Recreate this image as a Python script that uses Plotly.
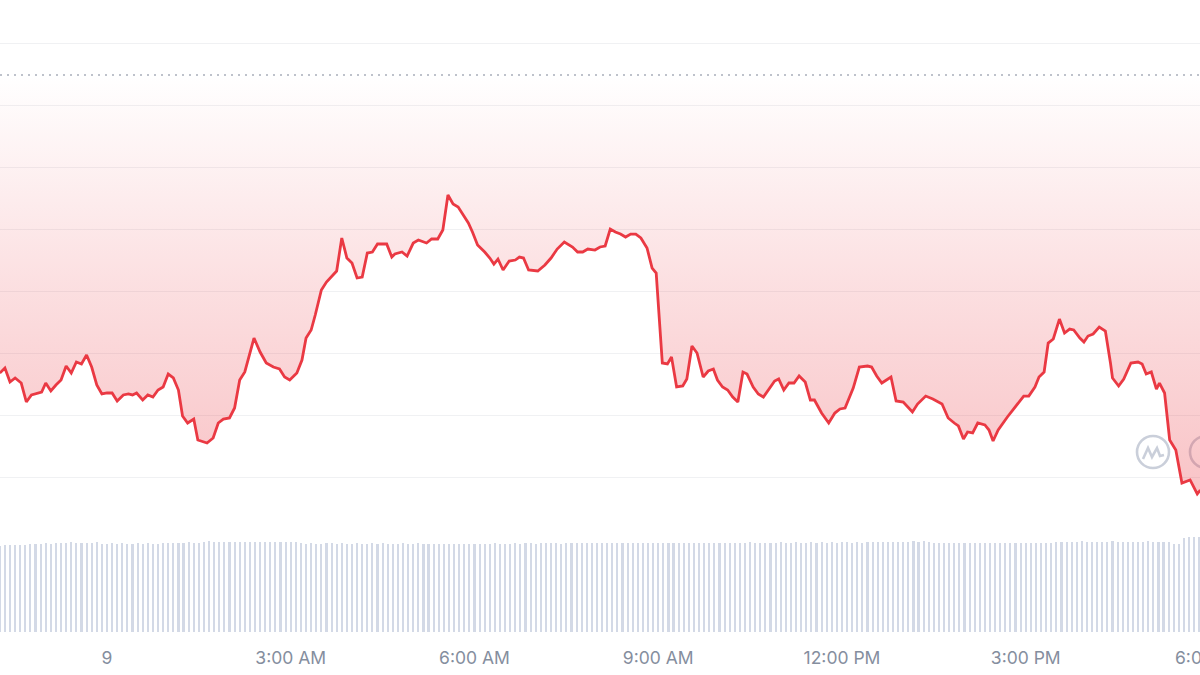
import pandas as pd
import plotly.graph_objects as go

# ---------------- data ----------------
# minutes from midnight of day 9 (negative = evening of day 8)
price_minutes = [
    -105, -100, -95, -90, -84, -79, -74, -68, -64, -60,
    -55, -50, -45, -40, -35, -30, -25, -20, -15, -10,
    -5, 0, 5, 10, 16, 21, 25, 29, 35, 40,
    45, 50, 55, 60, 65, 70, 74, 79, 85, 89,
    98, 104, 109, 114, 120, 125, 130, 135, 144, 150,
    156, 163, 169, 174, 179, 186, 191, 195, 200, 204,
    210, 215, 220, 225, 230, 235, 240, 245, 250, 255,
    260, 265, 274, 279, 282, 289, 294, 300, 305, 313,
    318, 324, 329, 334, 339, 344, 349, 354, 358, 363,
    370, 375, 379, 383, 388, 394, 400, 404, 408, 413,
    422, 429, 435, 441, 448, 456, 461, 466, 471, 478,
    483, 488, 493, 498, 503, 508, 513, 518, 523, 529,
    534, 538, 544, 549, 553, 558, 564, 568, 573, 578,
    584, 589, 594, 598, 603, 608, 613, 618, 623, 627,
    633, 638, 643, 649, 654, 658, 663, 668, 673, 678,
    684, 689, 693, 700, 707, 713, 718, 723, 731, 737,
    745, 749, 754, 759, 768, 773, 780, 789, 794, 802,
    809, 818, 824, 830, 834, 839, 843, 848, 853, 860,
    864, 868, 873, 882, 891, 898, 903, 909, 913, 918,
    922, 927, 933, 938, 943, 947, 953, 957, 961, 966,
    972, 978, 983, 985, 991, 996, 1003, 1010, 1014, 1018,
    1023, 1028, 1031, 1036, 1041, 1047, 1053, 1061, 1068, 1071,
]

prices = [
    116.77, 117.58, 115.32, 115.97, 115.16, 112.10, 113.23, 113.55, 113.71, 115.16,
    113.87, 114.84, 115.65, 117.90, 116.77, 118.55, 118.23, 119.68, 117.74, 114.84,
    113.39, 113.55, 113.55, 112.26, 113.23, 113.39, 113.23, 113.55, 112.42, 113.23,
    112.90, 114.03, 114.52, 116.61, 115.97, 114.03, 109.84, 108.71, 109.35, 105.97,
    105.48, 106.29, 108.71, 109.35, 109.52, 111.13, 115.65, 116.94, 122.42, 120.16,
    118.39, 117.74, 117.42, 116.13, 115.65, 116.77, 118.87, 122.42, 123.71, 126.13,
    130.16, 131.45, 132.42, 133.23, 138.55, 135.32, 134.52, 132.10, 132.26, 136.13,
    136.29, 137.58, 137.58, 135.48, 135.97, 136.29, 135.65, 137.74, 138.23, 137.74,
    138.39, 138.39, 139.84, 145.48, 144.03, 143.55, 142.26, 140.97, 139.52, 137.42,
    136.29, 135.32, 134.35, 135.16, 133.39, 134.84, 135.00, 135.48, 135.32, 133.39,
    133.23, 134.19, 135.32, 136.77, 137.90, 137.10, 136.29, 136.29, 136.77, 136.61,
    137.10, 137.26, 140.00, 139.52, 139.19, 138.71, 139.19, 139.19, 138.55, 136.94,
    133.71, 132.90, 118.39, 118.23, 119.35, 114.52, 114.68, 115.81, 121.13, 120.00,
    116.13, 117.10, 117.42, 115.65, 114.52, 114.03, 112.90, 112.10, 116.94, 116.61,
    114.52, 113.39, 112.90, 114.35, 115.48, 115.81, 114.03, 115.16, 115.16, 116.29,
    115.32, 112.42, 112.42, 110.32, 108.71, 110.32, 110.97, 111.13, 114.35, 117.74,
    117.90, 117.74, 116.29, 115.16, 116.13, 112.26, 112.10, 110.48, 111.77, 113.06,
    112.58, 111.77, 109.52, 108.71, 108.23, 106.13, 107.26, 107.10, 108.71, 108.39,
    107.58, 105.81, 107.58, 109.68, 111.61, 113.06, 113.06, 114.52, 116.13, 116.94,
    121.61, 122.26, 125.48, 123.23, 123.87, 123.71, 122.42, 121.77, 122.74, 123.06,
    124.19, 123.55, 118.39, 115.97, 114.68, 115.81, 118.39, 118.55, 118.23, 116.61,
    116.94, 114.19, 115.16, 113.55, 105.97, 104.35, 99.03, 99.52, 97.26, 97.90,
]

open_price = 164.84  # dotted reference line (price 24h ago)

# 5-minute volume bars, starting 22:15 on day 8
volume = [
    9.58, 9.62, 9.60, 9.65, 9.61, 9.63,
    9.78, 9.80, 9.76, 9.82, 9.79, 9.81,
    9.90, 9.88, 9.92, 9.89, 9.91, 9.87, 9.90, 9.93,
    9.80, 9.78, 9.82, 9.79, 9.81, 9.77, 9.80, 9.83, 9.79, 9.81, 9.78, 9.80,
    9.88, 9.90, 9.87, 9.91, 9.89, 9.92, 9.88, 9.90,
    10.02, 10.05,
    9.95, 9.93, 9.96, 9.94, 9.97, 9.95, 9.92, 9.96, 9.94, 9.95, 9.93, 9.97, 9.95, 9.94, 9.96, 9.93, 9.95,
    9.82, 9.79, 9.85, 9.80, 9.78, 9.83, 9.81, 9.77, 9.84, 9.80, 9.79, 9.82,
    9.76, 9.80, 9.83, 9.78, 9.81, 9.79, 9.74, 9.80, 9.82, 9.77, 9.79, 9.81,
    9.75, 9.78, 9.80, 9.73, 9.77, 9.79, 9.76, 9.74, 9.78, 9.80, 9.75, 9.77,
    9.79, 9.76, 9.81, 9.78, 9.80, 9.77, 9.83, 9.79, 9.81, 9.84, 9.80, 9.82,
    9.85, 9.81, 9.83, 9.80, 9.86, 9.82, 9.84, 9.81, 9.85, 9.83, 9.87, 9.84,
    9.82, 9.86, 9.83, 9.85, 9.88, 9.84, 9.86, 9.83, 9.87, 9.85, 9.89, 9.86,
    9.84, 9.88, 9.85, 9.87, 9.90, 9.86, 9.88, 9.85, 9.89, 9.87, 9.91, 9.88,
    9.86, 9.90, 9.87, 9.89, 9.92, 9.88, 9.90, 9.87, 9.91, 9.89, 9.93, 9.90,
    9.88, 9.92, 9.89, 9.91, 9.94, 9.90, 9.92, 9.89, 9.93, 9.91, 9.95, 9.92,
    9.90, 9.94, 9.91, 9.93, 9.96, 9.92, 9.94, 9.93, 9.97, 9.95,
    10.02, 10.00, 10.04, 10.01, 10.03, 10.00,
    9.85, 9.83, 9.87, 9.84, 9.86, 9.82, 9.85, 9.88, 9.84, 9.86, 9.83, 9.87,
    9.85, 9.84, 9.88, 9.86, 9.83, 9.85, 9.87, 9.84, 9.86, 9.85, 9.88, 9.84,
    10.00, 9.98, 10.02, 9.99, 10.01, 10.03, 9.99, 10.00, 10.02, 9.98, 10.01, 10.03,
    10.00, 9.99, 10.02, 10.01, 9.98, 10.00, 10.03, 10.01, 9.99, 10.02, 10.00,
    9.75, 9.78,
    10.45, 10.52, 10.50, 10.55,
]

tick_hours = [0, 3, 6, 9, 12, 15, 18]
tick_labels = ["9", "3:00 AM", "6:00 AM", "9:00 AM", "12:00 PM", "3:00 PM", "6:00 PM"]
grid_values = [100, 110, 120, 130, 140, 150, 160, 170]

# ---------------- figure ----------------
day = pd.Timestamp("2023-11-09")
price_times = day + pd.to_timedelta(price_minutes, unit="m")
vol_times = pd.date_range(day - pd.Timedelta(minutes=105), periods=len(volume), freq="5min")
x0 = day - pd.Timedelta(minutes=104.8)
x1 = day + pd.Timedelta(minutes=1070.7)
tick_times = [day + pd.Timedelta(hours=h) for h in tick_hours]

RED = "#EA3943"
FONT = dict(family="Inter, Roboto, sans-serif", size=17.5, color="#858E9E")
LOGO = "rgba(196,202,214,0.9)"

fig = go.Figure()

fig.add_trace(go.Scatter(
    x=[x0, x1], y=[open_price, open_price], mode="lines",
    line=dict(color="#A9AFBA", width=1.5, dash="2px,5px"),
    hoverinfo="skip",
))

fig.add_trace(go.Scatter(
    x=price_times, y=prices, mode="lines",
    line=dict(color=RED, width=2.8),
    fill="tonexty",
    fillgradient=dict(
        type="vertical",
        start=min(prices), stop=open_price,
        colorscale=[[0, "rgba(234,57,67,0.30)"], [0.5, "rgba(234,57,67,0.16)"],
                    [1, "rgba(234,57,67,0.0)"]],
    ),
))

fig.add_trace(go.Bar(
    x=vol_times, y=volume, yaxis="y2",
    marker=dict(color="#D3D9E6", line=dict(width=0)),
    width=125000, hoverinfo="skip",
))

# CoinMarketCap-style watermark (decorative)
def px(xp, yp):
    return xp / 1200, (632 - yp) / 632

cx0, cy0 = px(1137, 468)
cx1, cy1 = px(1169, 436)
dx0, dy0 = px(1190, 468)
dx1, dy1 = px(1222, 436)
pts = [px(1143, 459), px(1148, 448), px(1152, 457), px(1157, 448), px(1160, 456), px(1164, 455)]
path = "M " + " L ".join(f"{a:.5f},{b:.5f}" for a, b in pts)

shapes = [
    dict(type="circle", xref="paper", yref="paper", x0=cx0, y0=cy0, x1=cx1, y1=cy1,
         line=dict(color=LOGO, width=2.6), layer="below"),
    dict(type="path", xref="paper", yref="paper", path=path,
         line=dict(color=LOGO, width=2.6), layer="below"),
    dict(type="circle", xref="paper", yref="paper", x0=dx0, y0=dy0, x1=dx1, y1=dy1,
         line=dict(color=LOGO, width=2.6), layer="below"),
]

fig.update_layout(
    width=1200, height=675, autosize=False,
    margin=dict(l=0, r=0, t=0, b=43),
    paper_bgcolor="white", plot_bgcolor="white",
    showlegend=False, bargap=0,
    xaxis=dict(
        type="date", range=[x0, x1],
        tickmode="array", tickvals=tick_times, ticktext=tick_labels,
        showgrid=False, zeroline=False, showline=False, ticks="",
        tickfont=FONT, ticklabelstandoff=13,
    ),
    yaxis=dict(
        range=[75, 176.94], tickmode="array", tickvals=grid_values,
        showticklabels=False, gridcolor="#F0F1F3", gridwidth=1,
        zeroline=False, showline=False,
    ),
    yaxis2=dict(overlaying="y", range=[0, 70], visible=False),
    shapes=shapes,
    annotations=[dict(
        x=1209.5 / 1200, xref="paper", y=0, yref="paper",
        yanchor="middle", xanchor="center", yshift=-25,
        text=tick_labels[-1], showarrow=False, font=FONT,
    )],
)

fig.write_html(
    "out.html",
    config={"displayModeBar": False},
    post_script="document.body.style.margin='0';document.body.style.overflow='hidden';",
)
